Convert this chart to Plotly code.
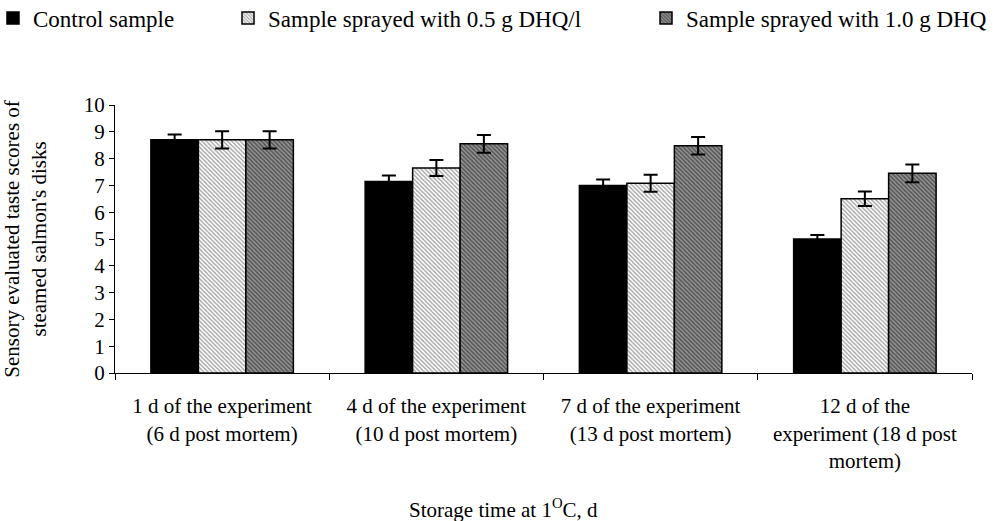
import plotly.graph_objects as go

categories = [
    "1 d of the experiment<br>(6 d post mortem)",
    "4 d of the experiment<br>(10 d post mortem)",
    "7 d of the experiment<br>(13 d post mortem)",
    "12 d of the<br>experiment (18 d post<br>mortem)",
]
series_names = ["Control sample", "Sample sprayed with 0.5 g DHQ/l", "Sample sprayed with 1.0 g DHQ"]
control = [8.7, 7.15, 7.0, 5.0]
control_err = [0.2, 0.22, 0.22, 0.15]
dhq05 = [8.7, 7.65, 7.08, 6.5]
dhq05_err = [0.32, 0.3, 0.32, 0.27]
dhq10 = [8.7, 8.55, 8.48, 7.45]
dhq10_err = [0.32, 0.33, 0.33, 0.33]
y_ticks = [0, 1, 2, 3, 4, 5, 6, 7, 8, 9, 10]

FONT = "Liberation Serif"
W, H = 1006, 521
PL, PR, PT, PB = 115, 972, 105, 373  # plot area in pixels

fig = go.Figure()

styles = [
    dict(color="black"),
    dict(color="white", pattern=dict(shape="\\", fgcolor="#444", bgcolor="white", size=3, solidity=0.45)),
    dict(color="#777", pattern=dict(shape="\\", fgcolor="#111", bgcolor="#999", size=3, solidity=0.55)),
]
vals = [control, dhq05, dhq10]
errs = [control_err, dhq05_err, dhq10_err]
legends = ["legend", "legend2", "legend3"]

for name, v, e, st, lg in zip(series_names, vals, errs, styles, legends):
    fig.add_trace(go.Bar(
        x=categories, y=v, name=name, showlegend=True,
        marker=dict(**st, line=dict(color="black", width=1.5)),
        error_y=dict(type="data", array=e, visible=True, color="black", thickness=2, width=7),
        legend=lg,
    ))


def px_x(p):
    return (p - PL) / (PR - PL)


def px_y(p):
    return (PB - p) / (PB - PT)


legend_common = dict(
    orientation="h", xref="paper", yref="paper", yanchor="middle",
    y=px_y(18), xanchor="left", bgcolor="rgba(0,0,0,0)",
    font=dict(family=FONT, size=23, color="black"), itemwidth=30,
)
fig.update_layout(
    showlegend=True,
    legend=dict(**legend_common, x=px_x(-7)),
    legend2=dict(**legend_common, x=px_x(228)),
    legend3=dict(**legend_common, x=px_x(646)),
)

fig.update_layout(
    width=W, height=H,
    margin=dict(l=PL, r=W - PR, t=PT, b=H - PB, autoexpand=False),
    plot_bgcolor="white", paper_bgcolor="white",
    barmode="group", bargap=0.335, bargroupgap=0,
    font=dict(family=FONT, size=21, color="black"),
    xaxis=dict(
        showline=True, linecolor="black", linewidth=1,
        ticks="outside", tickson="boundaries", ticklen=6, tickcolor="black",
        tickfont=dict(family=FONT, size=21, color="black"), ticklabelstandoff=14,
    ),
    yaxis=dict(
        range=[0, 10], tickvals=y_ticks, showline=True, linecolor="black", linewidth=1,
        ticks="outside", ticklen=5, tickcolor="black", showgrid=False, zeroline=False,
        tickfont=dict(family=FONT, size=21, color="black"),
        title=dict(text="Sensory evaluated taste scores of<br>steamed salmon's disks",
                   font=dict(family=FONT, size=21, color="black"), standoff=34),
    ),
    annotations=[dict(
        text="Storage time at 1<sup>O</sup>C, d", xref="paper", yref="paper",
        x=px_x(503), y=px_y(508),
        xanchor="center", yanchor="middle", showarrow=False,
        font=dict(family=FONT, size=21, color="black"),
    )],
)

fig.write_html("out.html")
